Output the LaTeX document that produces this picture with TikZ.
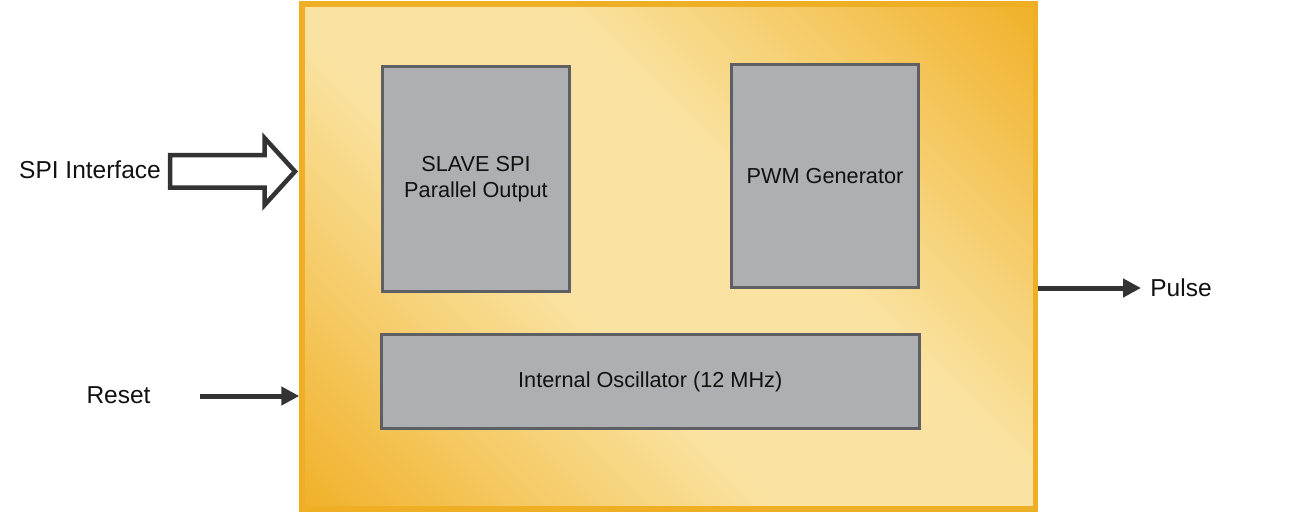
\documentclass[tikz,border=0pt]{standalone}
\usepackage{fontspec}
\setmainfont{Liberation Sans}
\usetikzlibrary{arrows.meta}
\definecolor{chiplight}{HTML}{FAE3A2}
\definecolor{chiporange}{HTML}{F0AE22}
\definecolor{chipborder}{HTML}{EEAF25}
\definecolor{blockfill}{HTML}{AEAFB3}
\definecolor{blockline}{HTML}{5E5F63}
\definecolor{arrowdark}{HTML}{333333}
\definecolor{txt}{HTML}{111111}
\pgfdeclarehorizontalshading{chipshade}{100bp}{color(0bp)=(chiporange); color(13bp)=(chiporange); color(42bp)=(chiplight); color(58bp)=(chiplight); color(87bp)=(chiporange); color(100bp)=(chiporange)}
\tikzset{
  chipbox/.style={draw=chipborder, line width=5.5pt, shading=chipshade, shading angle=45, inner sep=0pt, minimum width=733.5pt, minimum height=505pt},
  blockbox/.style={draw=blockline, fill=blockfill, line width=3pt, inner sep=0pt, align=center, font=\fontsize{21.7}{26}\selectfont, text=txt},
  lbl/.style={font=\fontsize{24.5}{29}\selectfont, text=txt, inner sep=0pt},
  sigarrow/.style={draw=arrowdark, line width=5pt, -{Triangle[length=18pt,width=18pt]}},
  busarrow/.style={draw=arrowdark, fill=white, line width=4.5pt, line join=miter}
}
\begin{document}
\begin{tikzpicture}[x=1pt, y=-1pt]
\useasboundingbox (0,0) rectangle (1316,512);
\node[chipbox] (chip) at (668.75,256.5) {};
\node[blockbox, minimum width=187pt, minimum height=225pt] (slave) at (476,179) {SLAVE SPI\\Parallel Output};
\node[blockbox, minimum width=187pt, minimum height=223pt] (pwm) at (825,176) {PWM Generator};
\node[blockbox, minimum width=537.5pt, minimum height=94pt] (osc) at (650.25,381.5) {Internal Oscillator (12 MHz)};
\node[lbl] (spi) at (90,170) {SPI Interface};
\node[lbl] (reset) at (118.5,395) {Reset};
\node[lbl] (pulse) at (1181,288) {Pulse};
\coordinate (rs) at (200,396);
\coordinate (pe) at (1141,288);
\draw[busarrow] (170,155) -- (264.5,155) -- (264.5,138) -- (295,171.5) -- (264.5,205) -- (264.5,187.5) -- (170,187.5) -- cycle;
\draw[sigarrow] (rs) -- (rs -| chip.west);
\draw[sigarrow] (pe -| chip.east) -- (pe);
\end{tikzpicture}
\end{document}
